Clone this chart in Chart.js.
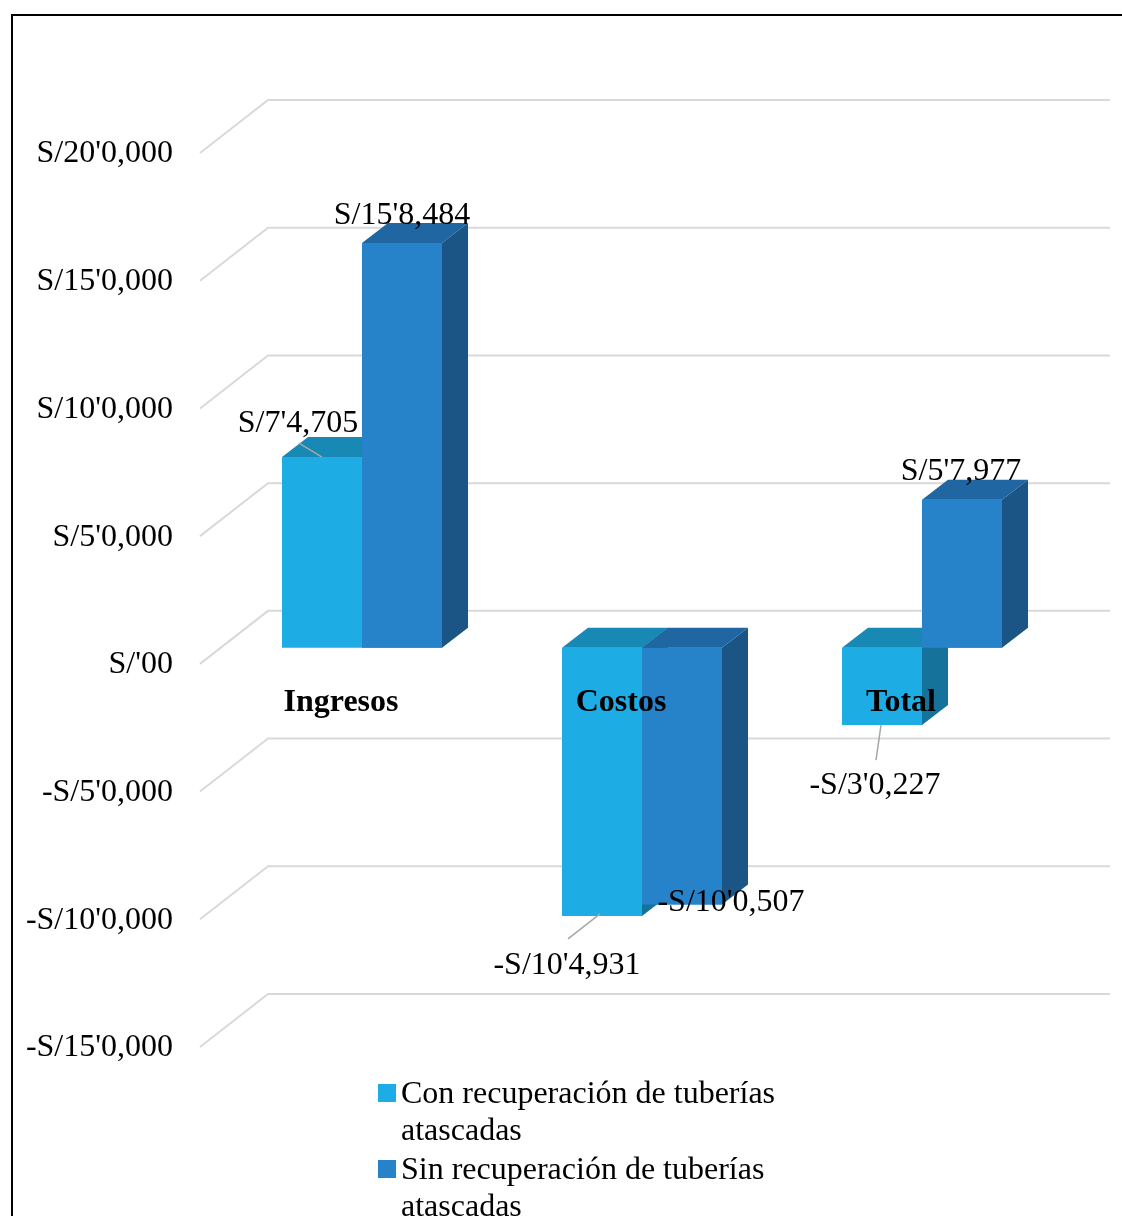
<!DOCTYPE html>
<html>
<head>
<meta charset="utf-8">
<script src="https://cdn.jsdelivr.net/npm/chart.js@4.4.0/dist/chart.umd.min.js"></script>
<style>
  body { margin: 0; background: #fff; }
  #wrap { position: relative; width: 1122px; height: 1216px; overflow: hidden; }
  #frame { position: absolute; left: 11px; top: 14px; width: 1200px; height: 1300px; border: 2px solid #000; box-sizing: border-box; }
  #chart { position: absolute; left: 0; top: 0; }
  .legend { position: absolute; left: 378px; top: 1074px; font-family: "Liberation Serif", "Times New Roman", serif; font-size: 32px; line-height: 37px; color: #000; }
  .item { position: relative; padding-left: 23px; width: 400px; margin-bottom: 2px; }
  .box { position: absolute; left: 0; top: 10px; width: 18px; height: 18px; }
</style>
</head>
<body>
<div id="wrap">
  <div id="frame"></div>
  <canvas id="chart" width="1122" height="1216"></canvas>
  <div class="legend" id="legend"></div>
</div>
<script>
const categories = ['Ingresos', 'Costos', 'Total'];
const seriesNames = ['Con recuperación de tuberías atascadas', 'Sin recuperación de tuberías atascadas'];
const conValues = [74705, -104931, -30227];
const sinValues = [158484, -100507, 57977];
const conLabels = ["S/7'4,705", "-S/10'4,931", "-S/3'0,227"];
const sinLabels = ["S/15'8,484", "-S/10'0,507", "S/5'7,977"];
const tickValues = [200000, 150000, 100000, 50000, 0, -50000, -100000, -150000];
const tickLabels = ["S/20'0,000", "S/15'0,000", "S/10'0,000", "S/5'0,000", "S/'00", "-S/5'0,000", "-S/10'0,000", "-S/15'0,000"];

// front, top, side colours per series
const faceColors = [
  ['#1DADE4', '#1888B5', '#15729B'],
  ['#2783C9', '#1F66A2', '#1B5585']
];
const depthX = 26, depthY = 20;
const font = '"Liberation Serif", "Times New Roman", serif';

// label offsets from the bar end (px), and leader lines
const labelOffsets = [
  [[-24, -33], [-35, 50], [-7, 61]],
  [[0, -27], [49, -2], [-1, -28]]
];
const leaderLines = [
  [[-23, -14, 0, 0], [-34, 23, -2, -2], [-6, 35, -1, 0]],
  [null, null, null]
];

function drawFaces(ctx, bar, cols) {
  const l = bar.x - bar.width / 2, r = bar.x + bar.width / 2;
  const top = Math.min(bar.y, bar.base), bottom = Math.max(bar.y, bar.base);
  ctx.fillStyle = cols[1];
  ctx.beginPath();
  ctx.moveTo(l, top);
  ctx.lineTo(l + depthX, top - depthY);
  ctx.lineTo(r + depthX, top - depthY);
  ctx.lineTo(r, top);
  ctx.closePath();
  ctx.fill();
  ctx.fillStyle = cols[2];
  ctx.beginPath();
  ctx.moveTo(r, top);
  ctx.lineTo(r + depthX, top - depthY);
  ctx.lineTo(r + depthX, bottom - depthY);
  ctx.lineTo(r, bottom);
  ctx.closePath();
  ctx.fill();
}

const wallPlugin = {
  id: 'wall',
  beforeDatasetsDraw(chart) {
    const ctx = chart.ctx;
    const y = chart.scales.y;
    const left = chart.chartArea.left;
    ctx.save();
    ctx.strokeStyle = '#D9D9D9';
    ctx.lineWidth = 2;
    tickValues.forEach((v, i) => {
      const py = y.getPixelForValue(v);
      ctx.beginPath();
      ctx.moveTo(left - 22, py + 16);
      ctx.lineTo(left + 46, py - 37);
      ctx.lineTo(1110, py - 37);
      ctx.stroke();
      ctx.fillStyle = '#000';
      ctx.font = '32px ' + font;
      ctx.textAlign = 'right';
      ctx.textBaseline = 'middle';
      ctx.fillText(tickLabels[i], left - 49, py + 17);
    });
    ctx.restore();
  },
  afterDatasetsDraw(chart) {
    const ctx = chart.ctx;
    const x = chart.scales.x, y = chart.scales.y;
    const zero = y.getPixelForValue(0);
    ctx.save();
    // 3D faces: first series, then second series drawn over it
    chart.getDatasetMeta(0).data.forEach(bar => drawFaces(ctx, bar, faceColors[0]));
    chart.getDatasetMeta(1).data.forEach(bar => {
      bar.draw(ctx);
      drawFaces(ctx, bar, faceColors[1]);
    });

    ctx.fillStyle = '#000';
    ctx.textAlign = 'center';
    ctx.textBaseline = 'middle';
    ctx.font = 'bold 32px ' + font;
    categories.forEach((c, i) => {
      ctx.fillText(c, x.getPixelForValue(i) - 21, zero + 55);
    });
    ctx.font = '32px ' + font;
    [conLabels, sinLabels].forEach((labels, s) => {
      const meta = chart.getDatasetMeta(s);
      meta.data.forEach((bar, i) => {
        const ln = leaderLines[s][i];
        if (ln) {
          ctx.strokeStyle = '#A6A6A6';
          ctx.lineWidth = 1.5;
          ctx.beginPath();
          ctx.moveTo(bar.x + ln[0], bar.y + ln[1]);
          ctx.lineTo(bar.x + ln[2], bar.y + ln[3]);
          ctx.stroke();
        }
        const off = labelOffsets[s][i];
        ctx.fillStyle = '#000';
        ctx.fillText(labels[i], bar.x + off[0], bar.y + off[1]);
      });
    });
    ctx.restore();
  }
};

new Chart(document.getElementById('chart'), {
  type: 'bar',
  data: {
    labels: categories,
    datasets: [
      { label: seriesNames[0], data: conValues, backgroundColor: faceColors[0][0] },
      { label: seriesNames[1], data: sinValues, backgroundColor: faceColors[1][0] }
    ]
  },
  options: {
    responsive: false,
    animation: false,
    layout: { padding: { left: 222, right: 60, top: 137, bottom: 185 } },
    categoryPercentage: 160 / 280,
    barPercentage: 1,
    scales: {
      x: { display: false },
      y: { display: false, min: -150000, max: 200000 }
    },
    plugins: {
      legend: { display: false },
      tooltip: { enabled: false }
    }
  },
  plugins: [wallPlugin]
});

const legend = document.getElementById('legend');
seriesNames.forEach((name, i) => {
  legend.innerHTML += `<div class="item"><span class="box" style="background:${faceColors[i][0]}"></span>${name}</div>`;
});
</script>
</body>
</html>
